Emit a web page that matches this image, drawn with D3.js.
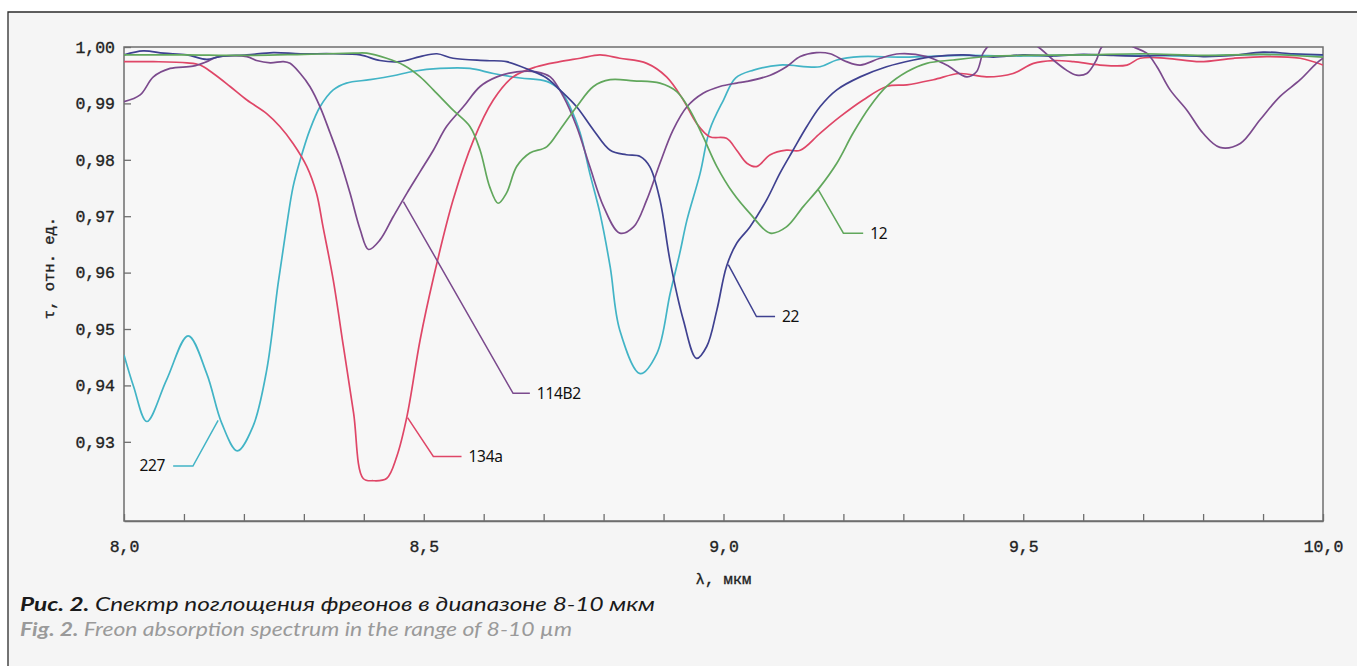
<!DOCTYPE html>
<html>
<head>
<meta charset="utf-8">
<script src="https://cdn.jsdelivr.net/npm/d3@7"></script>
<style>
  html, body { margin: 0; padding: 0; background: #fff; }
  svg { display: block; }
  .mono { font-family: "Liberation Mono", monospace; fill: #222; stroke: #222; stroke-width: 0.35px; }
</style>
</head>
<body>
<script>
// spectra, [lambda (um), tau]
const f227 = [
  [8.000, 0.9454], [8.016, 0.9398], [8.038, 0.9336], [8.071, 0.9410], [8.107, 0.9488],
  [8.138, 0.9421], [8.163, 0.9333], [8.189, 0.9284], [8.215, 0.9327], [8.238, 0.9427],
  [8.257, 0.9580], [8.271, 0.9681], [8.282, 0.9752], [8.294, 0.9800], [8.310, 0.9853],
  [8.327, 0.9894], [8.349, 0.9924], [8.371, 0.9936], [8.410, 0.9942], [8.449, 0.9949],
  [8.483, 0.9957], [8.527, 0.9962], [8.577, 0.9962], [8.616, 0.9953], [8.661, 0.9945],
  [8.705, 0.9939], [8.727, 0.9924], [8.744, 0.9894], [8.761, 0.9847], [8.777, 0.9776],
  [8.794, 0.9705], [8.811, 0.9610], [8.827, 0.9498], [8.861, 0.9421], [8.889, 0.9457],
  [8.911, 0.9563], [8.927, 0.9634], [8.939, 0.9693], [8.961, 0.9776], [8.977, 0.9853],
  [9.000, 0.9906], [9.020, 0.9945], [9.050, 0.9959], [9.094, 0.9968], [9.161, 0.9965],
  [9.189, 0.9977], [9.228, 0.9983], [9.300, 0.9982], [9.400, 0.9985], [9.500, 0.9984],
  [9.600, 0.9986], [9.700, 0.9985], [9.800, 0.9984], [9.900, 0.9987], [10.000, 0.9986]
]
const f134a = [
  [8.000, 0.9974], [8.049, 0.9974], [8.105, 0.9972], [8.127, 0.9968], [8.149, 0.9953],
  [8.177, 0.9930], [8.205, 0.9906], [8.238, 0.9882], [8.260, 0.9859], [8.282, 0.9829],
  [8.305, 0.9788], [8.321, 0.9741], [8.332, 0.9681], [8.349, 0.9587], [8.366, 0.9469],
  [8.383, 0.9351], [8.399, 0.9235], [8.416, 0.9231], [8.438, 0.9235], [8.455, 0.9274],
  [8.472, 0.9345], [8.494, 0.9481], [8.516, 0.9590], [8.549, 0.9729], [8.583, 0.9835],
  [8.616, 0.9906], [8.649, 0.9947], [8.688, 0.9965], [8.727, 0.9974], [8.761, 0.9980],
  [8.794, 0.9986], [8.827, 0.9980], [8.872, 0.9971], [8.905, 0.9947], [8.933, 0.9906],
  [8.955, 0.9865], [8.977, 0.9841], [9.005, 0.9838], [9.022, 0.9817], [9.039, 0.9794],
  [9.055, 0.9788], [9.078, 0.9809], [9.105, 0.9817], [9.128, 0.9817], [9.161, 0.9847],
  [9.194, 0.9876], [9.233, 0.9906], [9.272, 0.9930], [9.306, 0.9933], [9.350, 0.9942],
  [9.394, 0.9953], [9.439, 0.9947], [9.483, 0.9953], [9.517, 0.9971], [9.550, 0.9976],
  [9.584, 0.9974], [9.628, 0.9968], [9.673, 0.9968], [9.695, 0.9980], [9.739, 0.9980],
  [9.795, 0.9974], [9.851, 0.9980], [9.906, 0.9983], [9.962, 0.9980], [10.000, 0.9968]
]
const f114B2 = [
  [8.000, 0.9903], [8.027, 0.9915], [8.049, 0.9947], [8.077, 0.9962], [8.115, 0.9966],
  [8.138, 0.9974], [8.155, 0.9982], [8.205, 0.9983], [8.221, 0.9976], [8.244, 0.9972],
  [8.266, 0.9974], [8.277, 0.9971], [8.294, 0.9953], [8.310, 0.9930], [8.327, 0.9894],
  [8.344, 0.9847], [8.360, 0.9800], [8.377, 0.9741], [8.394, 0.9676], [8.408, 0.9641],
  [8.427, 0.9658], [8.449, 0.9699], [8.472, 0.9741], [8.494, 0.9779], [8.516, 0.9817],
  [8.538, 0.9859], [8.566, 0.9894], [8.594, 0.9930], [8.622, 0.9947], [8.655, 0.9956],
  [8.688, 0.9956], [8.711, 0.9947], [8.733, 0.9912], [8.755, 0.9859], [8.777, 0.9788],
  [8.800, 0.9717], [8.827, 0.9670], [8.850, 0.9681], [8.872, 0.9729], [8.894, 0.9794],
  [8.916, 0.9853], [8.939, 0.9894], [8.966, 0.9918], [8.994, 0.9930], [9.022, 0.9936],
  [9.039, 0.9939], [9.078, 0.9950], [9.105, 0.9965], [9.128, 0.9983], [9.155, 0.9990],
  [9.178, 0.9988], [9.205, 0.9974], [9.228, 0.9968], [9.261, 0.9980], [9.294, 0.9988],
  [9.339, 0.9983], [9.372, 0.9968], [9.406, 0.9947], [9.422, 0.9956], [9.433, 0.9989],
  [9.445, 1.0005], [9.470, 1.0020], [9.500, 1.0015], [9.525, 1.0000], [9.550, 0.9977],
  [9.572, 0.9959], [9.589, 0.9950], [9.606, 0.9953], [9.622, 0.9977], [9.631, 1.0000],
  [9.650, 1.0012], [9.668, 1.0010], [9.684, 1.0000], [9.706, 0.9989], [9.723, 0.9965],
  [9.745, 0.9924], [9.773, 0.9888], [9.800, 0.9847], [9.828, 0.9822], [9.862, 0.9829],
  [9.895, 0.9871], [9.928, 0.9912], [9.962, 0.9942], [9.989, 0.9971], [10.000, 0.9980]
]
const f22 = [
  [8.000, 0.9986], [8.032, 0.9993], [8.066, 0.9989], [8.105, 0.9986], [8.138, 0.9978],
  [8.160, 0.9983], [8.205, 0.9986], [8.249, 0.9990], [8.294, 0.9988], [8.349, 0.9988],
  [8.394, 0.9986], [8.427, 0.9976], [8.460, 0.9974], [8.494, 0.9983], [8.522, 0.9988],
  [8.549, 0.9980], [8.605, 0.9976], [8.638, 0.9974], [8.677, 0.9959], [8.705, 0.9945],
  [8.727, 0.9924], [8.755, 0.9894], [8.783, 0.9853], [8.811, 0.9817], [8.838, 0.9809],
  [8.861, 0.9806], [8.877, 0.9788], [8.894, 0.9729], [8.911, 0.9620], [8.933, 0.9516],
  [8.955, 0.9448], [8.972, 0.9469], [8.989, 0.9534], [9.005, 0.9611], [9.022, 0.9652],
  [9.044, 0.9681], [9.072, 0.9729], [9.094, 0.9776], [9.116, 0.9817], [9.139, 0.9859],
  [9.161, 0.9894], [9.189, 0.9924], [9.228, 0.9947], [9.272, 0.9965], [9.317, 0.9977],
  [9.350, 0.9983], [9.400, 0.9986], [9.450, 0.9982], [9.500, 0.9986], [9.550, 0.9984],
  [9.600, 0.9987], [9.650, 0.9985], [9.700, 0.9984], [9.750, 0.9986], [9.800, 0.9983],
  [9.850, 0.9985], [9.900, 0.9991], [9.950, 0.9988], [10.000, 0.9986]
]
const f12 = [
  [8.000, 0.9986], [8.100, 0.9986], [8.200, 0.9985], [8.300, 0.9987], [8.383, 0.9989],
  [8.405, 0.9989], [8.438, 0.9980], [8.466, 0.9968], [8.494, 0.9947], [8.516, 0.9924],
  [8.549, 0.9888], [8.577, 0.9859], [8.594, 0.9817], [8.610, 0.9752], [8.624, 0.9723],
  [8.638, 0.9741], [8.655, 0.9788], [8.677, 0.9812], [8.705, 0.9823], [8.727, 0.9853],
  [8.755, 0.9894], [8.783, 0.9930], [8.811, 0.9942], [8.850, 0.9940], [8.894, 0.9936],
  [8.922, 0.9921], [8.944, 0.9888], [8.966, 0.9841], [8.989, 0.9788], [9.016, 0.9741],
  [9.044, 0.9705], [9.078, 0.9670], [9.105, 0.9681], [9.133, 0.9717], [9.161, 0.9752],
  [9.189, 0.9794], [9.216, 0.9847], [9.244, 0.9894], [9.272, 0.9930], [9.306, 0.9956],
  [9.339, 0.9971], [9.383, 0.9977], [9.450, 0.9984], [9.500, 0.9985], [9.600, 0.9986],
  [9.700, 0.9988], [9.800, 0.9985], [9.900, 0.9987], [10.000, 0.9982]
]

const names = ['227', '134a', '114B2', '22', '12']
const spectra = [f227, f134a, f114B2, f22, f12]
const colors = ['#42b4c6', '#df4667', '#7b4a8d', '#3f4190', '#61a75c']

// leader lines: point on curve -> elbow -> end (lambda, tau)
const leaderFrom = [[8.157, 0.9338], [8.473, 0.9343], [8.466, 0.9726], [9.008, 0.9614], [9.158, 0.9747]]
const leaderElbow = [[8.115, 0.9257], [8.516, 0.9274], [8.649, 0.9386], [9.055, 0.9522], [9.200, 0.9670]]
const leaderEnd = [[8.082, 0.9257], [8.563, 0.9274], [8.677, 0.9386], [9.086, 0.9522], [9.233, 0.9670]]
const labelSide = ['left', 'right', 'right', 'right', 'right']

const yTicks = [0.93, 0.94, 0.95, 0.96, 0.97, 0.98, 0.99, 1.00]
const xLabelTicks = [8.0, 8.5, 9.0, 9.5, 10.0]
const xMinorTicks = d3.range(0, 21).map(i => 8 + i * 0.1)

const W = 1357, H = 666
const margin = { top: 47, left: 124, right: W - 1323, bottom: H - 521 }

let svg = d3.select('body').append('svg')
  .attr('width', W).attr('height', H)

// journal figure frame
svg.append('rect').attr('x', 8).attr('y', 12).attr('width', W - 8).attr('height', H - 12)
  .attr('fill', '#f5f5f5')
svg.append('path').attr('d', `M8,${H}V12H${W}`)
  .attr('fill', 'none').attr('stroke', '#2b2b2b').attr('stroke-width', 1.3)

let x = d3.scaleLinear().domain([8, 10]).range([margin.left, W - margin.right])
let y = d3.scaleLinear().domain([0.91596, 1.0]).range([H - margin.bottom, margin.top])

let fmt = (d, n) => d.toFixed(n).replace('.', ',')

// plot box
svg.append('rect')
  .attr('x', x(8)).attr('y', y(1)).attr('width', x(10) - x(8)).attr('height', y.range()[0] - y(1))
  .attr('fill', '#f7f7f7').attr('stroke', '#6e6e6e').attr('stroke-width', 1.5)

svg.append('g')
  .attr('transform', `translate(0,${y.range()[0]})`)
  .call(d3.axisBottom(x).tickValues(xMinorTicks).tickSizeInner(-7).tickSizeOuter(0).tickFormat(() => ''))
  .call(g => g.select('.domain').attr('stroke', '#6e6e6e').attr('stroke-width', 1.5))
  .call(g => g.selectAll('.tick line').attr('stroke', '#6e6e6e').attr('stroke-width', 1.3))

svg.append('g')
  .attr('transform', `translate(0,${y.range()[0]})`)
  .call(d3.axisBottom(x).tickValues(xLabelTicks).tickSize(0).tickPadding(19).tickFormat(d => fmt(d, 1)))
  .call(g => g.select('.domain').remove())
  .call(g => g.selectAll('text').attr('class', 'mono').attr('font-size', 16.5))

svg.append('g')
  .attr('transform', `translate(${x(8)},0)`)
  .call(d3.axisLeft(y).tickValues(yTicks).tickSizeInner(-7).tickSizeOuter(0).tickPadding(9).tickFormat(d => fmt(d, 2)))
  .call(g => g.select('.domain').remove())
  .call(g => g.selectAll('.tick line').attr('stroke', '#6e6e6e').attr('stroke-width', 1.3))
  .call(g => g.selectAll('text').attr('class', 'mono').attr('font-size', 16.5))

svg.append('text')
  .attr('class', 'mono')
  .attr('transform', 'translate(54,268) rotate(-90)')
  .attr('text-anchor', 'middle')
  .attr('font-size', 15.5)
  .text('τ, отн. ед.')

svg.append('text')
  .attr('class', 'mono')
  .attr('x', (x(8) + x(10)) / 2).attr('y', 584)
  .attr('text-anchor', 'middle')
  .attr('font-size', 15.5)
  .text('λ, мкм')

// curves, clipped to the plot box
svg.append('clipPath').attr('id', 'plot')
  .append('rect').attr('x', x(8)).attr('y', y(1)).attr('width', x(10) - x(8)).attr('height', y.range()[0] - y(1))

let line = d3.line().x(d => x(d[0])).y(d => y(d[1])).curve(d3.curveCatmullRom.alpha(0.5))

svg.append('g').attr('clip-path', 'url(#plot)')
  .selectAll('path').data(spectra).enter()
  .append('path')
  .attr('d', line)
  .attr('fill', 'none')
  .attr('stroke', (d, i) => colors[i])
  .attr('stroke-width', 1.7)
  .attr('stroke-linejoin', 'round')

// leaders + labels
names.forEach((name, i) => {
  let pts = [leaderFrom[i], leaderElbow[i], leaderEnd[i]]
  svg.append('path')
    .attr('d', d3.line().x(d => x(d[0])).y(d => y(d[1]))(pts))
    .attr('fill', 'none').attr('stroke', colors[i]).attr('stroke-width', 1.5)
  let e = leaderEnd[i]
  svg.append('text')
    .attr('x', x(e[0]) + (labelSide[i] === 'left' ? -8 : 7))
    .attr('y', y(e[1]))
    .attr('dy', '0.35em')
    .attr('text-anchor', labelSide[i] === 'left' ? 'end' : 'start')
    .attr('font-family', 'Noto Sans, sans-serif').attr('font-size', 15.5).attr('fill', '#111')
    .attr('letter-spacing', -0.3)
    .text(name)
})

// caption
let cap = svg.append('text').attr('x', 20).attr('y', 611)
  .attr('font-family', 'Lato, sans-serif').attr('font-size', 19.5).attr('font-style', 'italic')
  .attr('fill', '#1a1a1a')
  .attr('textLength', 635).attr('lengthAdjust', 'spacingAndGlyphs')
cap.append('tspan').attr('font-weight', 'bold').text('Рис. 2.')
cap.append('tspan').text(' Спектр поглощения фреонов в диапазоне 8-10 мкм')

let cap2 = svg.append('text').attr('x', 20).attr('y', 636)
  .attr('font-family', 'Lato, sans-serif').attr('font-size', 19.5).attr('font-style', 'italic')
  .attr('fill', '#9a9a9a')
  .attr('textLength', 552).attr('lengthAdjust', 'spacingAndGlyphs')
cap2.append('tspan').attr('font-weight', 'bold').text('Fig. 2.')
cap2.append('tspan').text(' Freon absorption spectrum in the range of 8-10 µm')
</script>
</body>
</html>
